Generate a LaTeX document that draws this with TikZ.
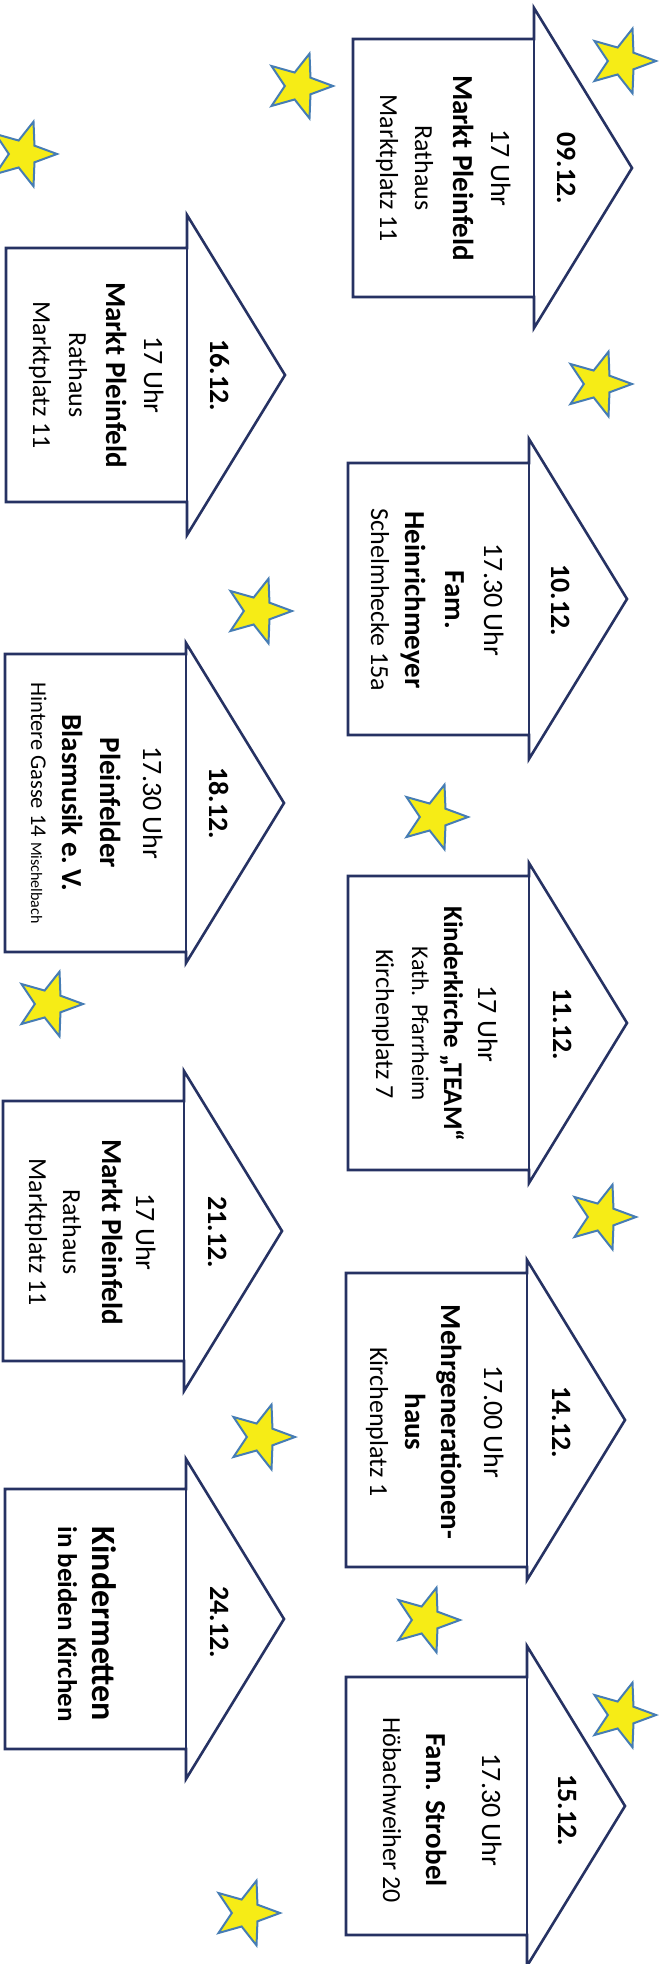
\documentclass[tikz,border=0pt]{standalone}
\usepackage{fontspec}
\setmainfont{Carlito}
\usetikzlibrary{shapes.geometric}
\definecolor{navy}{RGB}{38,50,99}
\definecolor{staryel}{RGB}{246,236,22}
\definecolor{starblue}{RGB}{70,125,180}
\newcommand\drawhouse[3]{%
  \pgfmathsetmacro\hxl{#1}\pgfmathsetmacro\hxb{#1+181}\pgfmathsetmacro\hxa{#1+279}%
  \pgfmathsetmacro\hrt{#2-160+#3}\pgfmathsetmacro\hrb{#2+160-#3}%
  \pgfmathsetmacro\hyt{#2-160}\pgfmathsetmacro\hyb{#2+160}%
  \draw[houseline] (\hxl,\hrt) -- (\hxb,\hrt) -- (\hxb,\hyt) -- (\hxa,#2) -- (\hxb,\hyb) -- (\hxb,\hrb) -- (\hxl,\hrb) -- cycle;
  \draw[houseline] (\hxb,\hrt) -- (\hxb,\hrb);
}
\begin{document}
\begin{tikzpicture}[x=1pt,y=-1pt,
  houseline/.style={draw=navy, line width=2.6pt, fill=white},
  tx/.style={rotate=-90, anchor=base, inner sep=0pt, text=black},
  dt/.style={tx, font=\fontsize{28}{30}\selectfont\bfseries},
  tm/.style={tx, font=\fontsize{28}{30}\selectfont},
  nm/.style={tx, font=\fontsize{29}{31}\selectfont\bfseries},
  ad/.style={tx, font=\fontsize{26}{28}\selectfont},
  starsh/.style={star, star points=5, star point ratio=2.4, shape border rotate=-90,
    minimum size=68pt, inner sep=0pt, fill=staryel, draw=starblue, line width=2pt}]
\useasboundingbox[fill=white] (0,0) rectangle (661,1964);

% houses: xl, yc, gap
\drawhouse{353}{168}{31}
\drawhouse{348}{599}{24}
\drawhouse{348}{1023}{13}
\drawhouse{346}{1420}{13}
\drawhouse{346}{1806}{31}
\drawhouse{6}{375}{33}
\drawhouse{5}{803}{11}
\drawhouse{3}{1231}{30}
\drawhouse{5}{1619}{30}

% 09.12
\node[dt] (d0912) at (557,168) {09.12.};
\node[tm] (t0912) at (491,168) {17 Uhr};
\node[nm] (n0912) at (453,168) {Markt Pleinfeld};
\node[ad] (a0912) at (415,168) {Rathaus};
\node[ad] (b0912) at (380,168) {Marktplatz 11};
% 10.12
\node[dt] (d1012) at (551,600) {10.12.};
\node[tm] (t1012) at (484,600) {17.30 Uhr};
\node[nm] (n1012) at (445,600) {Fam.};
\node[nm] (m1012) at (405,600) {Heinrichmeyer};
\node[ad] (a1012) at (371,600) {Schelmhecke 15a};
% 11.12
\node[dt] (d1112) at (553,1024) {11.12.};
\node[tm] (t1112) at (478,1024) {17 Uhr};
\node[nm, font=\fontsize{27}{29}\selectfont\bfseries] (n1112) at (444,1024) {Kinderkirche „TEAM“};
\node[ad, font=\fontsize{24}{26}\selectfont] (a1112) at (412,1024) {Kath. Pfarrheim};
\node[ad] (b1112) at (376,1024) {Kirchenplatz 7};
% 14.12
\node[dt] (d1412) at (552,1422) {14.12.};
\node[tm] (t1412) at (484,1422) {17.00 Uhr};
\node[nm] (n1412) at (441,1422) {Mehrgenerationen-};
\node[nm] (m1412) at (405,1422) {haus};
\node[ad] (a1412) at (370,1422) {Kirchenplatz 1};
% 15.12
\node[dt] (d1512) at (558,1810) {15.12.};
\node[tm] (t1512) at (482,1810) {17.30 Uhr};
\node[nm] (n1512) at (426,1810) {Fam. Strobel};
\node[ad] (a1512) at (383,1810) {Höbachweiher 20};
% 16.12
\node[dt] (d1612) at (210,375) {16.12.};
\node[tm] (t1612) at (144,375) {17 Uhr};
\node[nm] (n1612) at (106,375) {Markt Pleinfeld};
\node[ad] (a1612) at (69,375) {Rathaus};
\node[ad] (b1612) at (33,375) {Marktplatz 11};
% 18.12
\node[dt] (d1812) at (209,803) {18.12.};
\node[tm] (t1812) at (143,803) {17.30 Uhr};
\node[nm] (n1812) at (100,803) {Pleinfelder};
\node[nm] (m1812) at (62,803) {Blasmusik e.\,V.};
\node[ad, font=\fontsize{22.5}{24}\selectfont] (a1812) at (31,803) {Hintere Gasse 14 {\fontsize{16}{18}\selectfont Mischelbach}};
% 21.12
\node[dt] (d2112) at (208,1232) {21.12.};
\node[tm] (t2112) at (136,1232) {17 Uhr};
\node[nm] (n2112) at (102,1232) {Markt Pleinfeld};
\node[ad] (a2112) at (63,1232) {Rathaus};
\node[ad] (b2112) at (29,1232) {Marktplatz 11};
% 24.12
\node[dt] (d2412) at (210,1622) {24.12.};
\node[nm, font=\fontsize{34}{36}\selectfont\bfseries] (n2412) at (92,1624) {Kindermetten};
\node[nm, font=\fontsize{27}{29}\selectfont\bfseries] (m2412) at (58,1624) {in beiden Kirchen};

% stars
\node[starsh] (s1) at (622,61) {};
\node[starsh] (s2) at (299,86) {};
\node[starsh] (s3) at (23,154) {};
\node[starsh] (s4) at (598,384) {};
\node[starsh] (s5) at (258,611) {};
\node[starsh] (s6) at (434,817) {};
\node[starsh] (s7) at (49,1004) {};
\node[starsh] (s8) at (602,1217) {};
\node[starsh] (s9) at (261,1437) {};
\node[starsh] (s10) at (426,1620) {};
\node[starsh] (s11) at (622,1715) {};
\node[starsh] (s12) at (246,1913) {};
\end{tikzpicture}
\end{document}
